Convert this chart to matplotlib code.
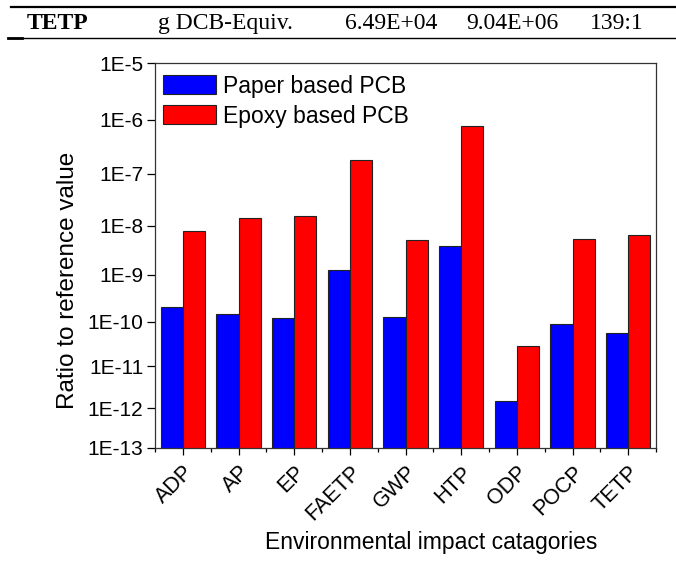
import numpy as np
import matplotlib
matplotlib.use("Agg")
import matplotlib.pyplot as plt
from matplotlib.lines import Line2D

plt.rcParams['font.family'] = ['Liberation Sans', 'DejaVu Sans']

categories = ['ADP', 'AP', 'EP', 'FAETP', 'GWP', 'HTP', 'ODP', 'POCP', 'TETP']
paper_pcb = [2.1e-10, 1.5e-10, 1.2e-10, 1.28e-9, 1.3e-10, 3.9e-9, 1.5e-12, 8.9e-11, 5.8e-11]
epoxy_pcb = [7.8e-9, 1.44e-8, 1.55e-8, 1.8e-7, 5.2e-9, 7.7e-7, 2.9e-11, 5.3e-9, 6.4e-9]
yticks = [1e-5, 1e-6, 1e-7, 1e-8, 1e-9, 1e-10, 1e-11, 1e-12, 1e-13]
ytick_labels = ['1E-5', '1E-6', '1E-7', '1E-8', '1E-9', '1E-10', '1E-11', '1E-12', '1E-13']
table_row = ['TETP', 'g DCB-Equiv.', '6.49E+04', '9.04E+06', '139:1']

# the scanned axis is squeezed towards the bottom: log scale with a slight quadratic warp
A, B = 57.5, 1.2


def fwd(y):
    k = -np.log10(np.maximum(y, 1e-30)) - 5
    k = np.minimum(k, 20)
    return -(A * k - B * k ** 2)


def inv(v):
    w = -np.asarray(v, dtype=float)
    k = (A - np.sqrt(np.maximum(A * A - 4 * B * w, 0))) / (2 * B)
    return 10 ** (-(k + 5))


fig = plt.figure(figsize=(6.76, 5.62), dpi=100)
ax = fig.add_axes([155 / 676, 1 - 448 / 562, 501 / 676, 384.7 / 562])
ax.set_yscale('function', functions=(fwd, inv))

x = np.arange(len(categories))
w = 0.4
ax.bar(x - w / 2, paper_pcb, w, color='#0000ff', edgecolor='#222222', linewidth=0.8,
       label='Paper based PCB')
ax.bar(x + w / 2, epoxy_pcb, w, color='#ff0000', edgecolor='#222222', linewidth=0.8,
       label='Epoxy based PCB')

ax.set_ylim(1e-13, 1e-5)
ax.set_xlim(-0.5, 8.5)
ax.set_yticks(yticks)
ax.set_yticklabels(ytick_labels, fontsize=15)
ax.yaxis.set_minor_locator(matplotlib.ticker.NullLocator())
ax.set_xticks(x)
ax.set_xticks(np.arange(-0.5, 9, 1), minor=True)
ax.set_xticklabels(categories, fontsize=15.5, rotation=45, ha='right', rotation_mode='anchor')
ax.tick_params(axis='y', direction='out', length=5.5, width=0.9, pad=3)
ax.tick_params(axis='x', which='major', direction='out', length=5, width=0.9, pad=5)
ax.tick_params(axis='x', which='minor', direction='out', length=3, width=0.9)
for s in ax.spines.values():
    s.set_linewidth(0.9)
    s.set_color('#333333')

ax.set_ylabel('Ratio to reference value', fontsize=17.5)
ax.yaxis.set_label_coords(-0.152, 0.435)
ax.set_xlabel('Environmental impact catagories', fontsize=16.5)
ax.xaxis.set_label_coords(0.551, -0.215)

ax.legend(loc='upper left', bbox_to_anchor=(-0.006, 1.0), frameon=False, fontsize=16.5,
          handlelength=2.3, handleheight=0.9, handletextpad=0.3, borderpad=0.3,
          labelspacing=0.3, borderaxespad=0.2)

# table row above the figure
xs = [27, 158, 345, 466, 590]
for i, (txt, xp) in enumerate(zip(table_row, xs)):
    fig.text(xp / 676, 1 - 29 / 562, txt, family='Liberation Serif', fontsize=17,
             weight='bold' if i == 0 else 'normal', va='baseline', ha='left')
fig.add_artist(Line2D([11 / 676, 1], [1 - 6.7 / 562] * 2, color='black', linewidth=1.6))
fig.add_artist(Line2D([8 / 676, 1], [1 - 38.3 / 562] * 2, color='black', linewidth=1.0))
fig.add_artist(Line2D([8 / 676, 22 / 676], [1 - 38.3 / 562] * 2, color='black', linewidth=2.0))

fig.savefig('out.png', dpi=100)
